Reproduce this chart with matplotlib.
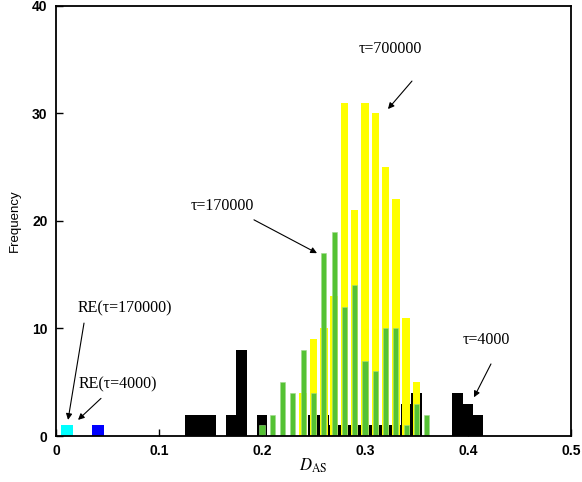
import matplotlib
matplotlib.use("Agg")
import matplotlib.pyplot as plt

plt.rcParams["mathtext.fontset"] = "stix"

# tau = 4000 histogram (black), bin width 0.01
black_x = [0.13, 0.14, 0.15, 0.17, 0.18, 0.20, 0.25, 0.26, 0.27, 0.28, 0.29, 0.30,
           0.31, 0.32, 0.33, 0.34, 0.35, 0.39, 0.40, 0.41]
black_y = [2, 2, 2, 2, 8, 2, 2, 2, 1, 1, 1, 1,
           1, 1, 1, 3, 4, 4, 3, 2]

# tau = 700000 histogram (yellow)
yellow_x = [0.24, 0.25, 0.26, 0.27, 0.28, 0.29, 0.30, 0.31, 0.32, 0.33, 0.34, 0.35]
yellow_y = [4, 9, 10, 13, 31, 21, 31, 30, 25, 22, 11, 5]

# tau = 170000 histogram (green)
green_x = [0.20, 0.21, 0.22, 0.23, 0.24, 0.25, 0.26, 0.27, 0.28, 0.29, 0.30,
           0.31, 0.32, 0.33, 0.34, 0.35, 0.36]
green_y = [1, 2, 5, 4, 8, 4, 17, 19, 12, 14, 7, 6, 10, 10, 1, 3, 2]

# random-equivalent values
re_x = [0.0108, 0.0408]
re_y = [1, 1]
re_colors = ["#00FFFF", "#0000FF"]

# annotations: label, text position, arrow tail, arrow head
notes = [
    ("\u03c4=700000", (0.3243, 36.0), (0.3456, 33.0), (0.3223, 30.4)),
    ("\u03c4=170000", (0.1612, 21.4), (0.1922, 20.1), (0.2534, 17.0)),
    ("\u03c4=4000", (0.4175, 8.9), (0.4223, 6.7), (0.4058, 3.6)),
    ("RE(\u03c4=170000)", (0.067, 11.9), (0.0272, 10.5), (0.0117, 1.5)),
    ("RE(\u03c4=4000)", (0.0602, 4.8), (0.0437, 3.5), (0.0214, 1.5)),
]

fig = plt.figure(figsize=(5.82, 4.82), dpi=100)
ax = fig.add_axes([0.0962, 0.0954, 0.8849, 0.8926])

ax.bar(black_x, black_y, width=0.0101, color="black", zorder=2)
ax.bar(yellow_x, yellow_y, width=0.0072, color="#FFFF00", zorder=3)
ax.bar(green_x, green_y, width=0.0049, color="#55C234", edgecolor="#9ED98A", linewidth=0.4, zorder=4)
ax.bar(re_x, re_y, width=0.0112, color=re_colors, zorder=3)

ax.set_xlim(0, 0.5)
ax.set_ylim(0, 40)
ax.set_xticks([0, 0.1, 0.2, 0.3, 0.4, 0.5])
ax.set_xticklabels(["0", "0.1", "0.2", "0.3", "0.4", "0.5"])
ax.set_yticks([0, 10, 20, 30, 40])
ax.tick_params(direction="in", length=5, width=1, labelsize=10, pad=6)
for lab in ax.get_xticklabels() + ax.get_yticklabels():
    lab.set_fontweight("bold")
    lab.set_fontfamily("Liberation Sans")
for s in ax.spines.values():
    s.set_linewidth(1.3)
    s.set_zorder(6)

ax.set_ylabel("Frequency", fontfamily="Liberation Sans", fontsize=9.5, labelpad=8)
ax.set_xlabel(r"$D_{\rm AS}$", fontsize=12, labelpad=-1)

arrow = dict(arrowstyle="-|>", color="black", lw=0.8, mutation_scale=9,
             shrinkA=0, shrinkB=0)
for label, pos, tail, head in notes:
    ax.text(pos[0], pos[1], label, ha="center", va="center",
            fontfamily="Liberation Serif", fontsize=11.5)
    ax.annotate("", xy=head, xytext=tail, arrowprops=arrow)

fig.savefig("out.png", dpi=100)
